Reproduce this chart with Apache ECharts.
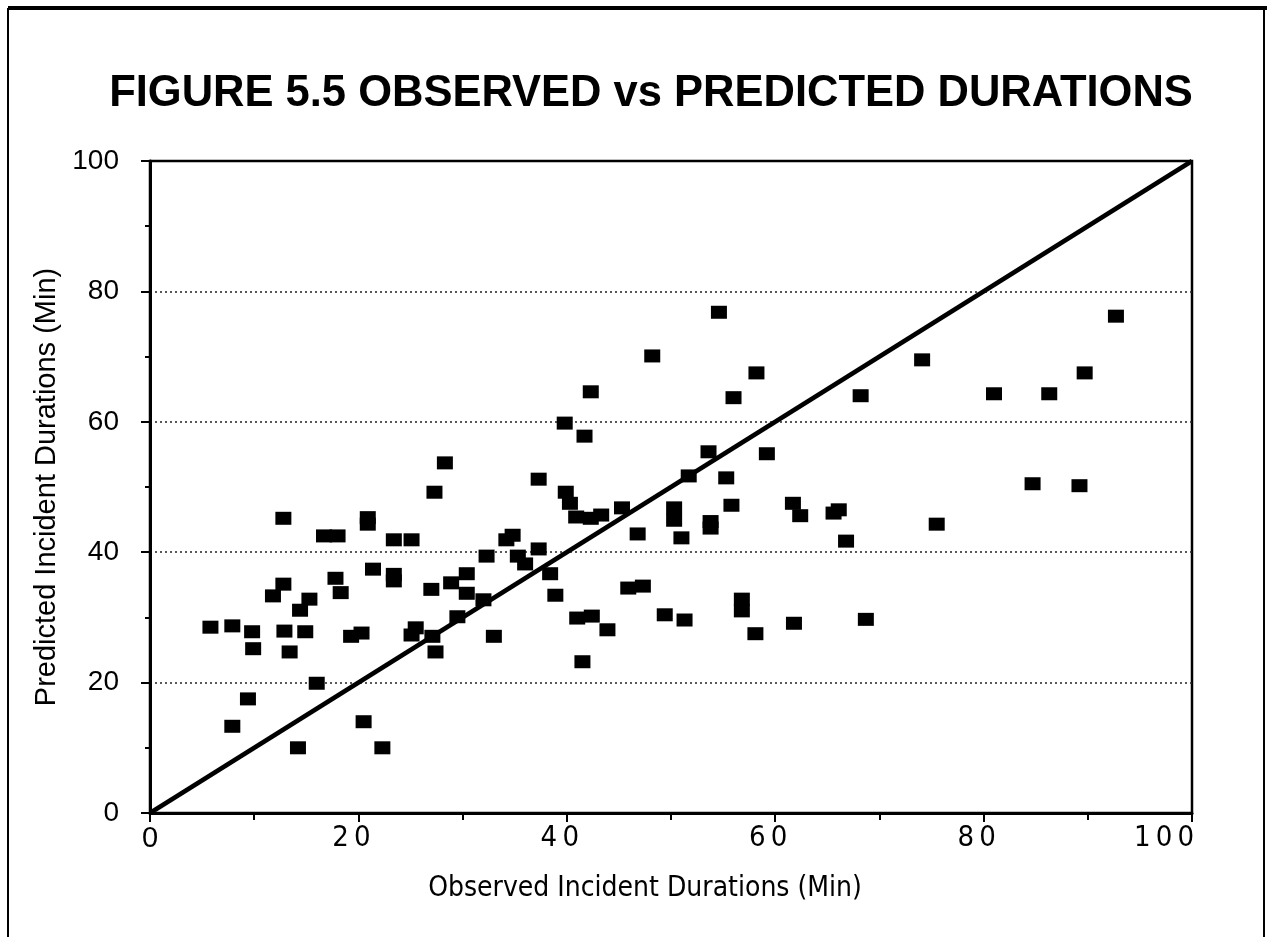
<!DOCTYPE html>
<html>
<head>
<meta charset="utf-8">
<script src="https://cdn.jsdelivr.net/npm/echarts@6/dist/echarts.min.js"></script>
<style>
  html, body { margin: 0; padding: 0; background: #fff; }
  #chart { width: 1267px; height: 937px; }
</style>
</head>
<body>
<div id="chart"></div>
<script>
// observed (x) and predicted (y) incident durations
const observed = [
  5.8, 7.9, 7.9, 9.4, 9.8, 9.9, 11.8, 12.8, 12.8, 12.9,
  13.4, 14.2, 14.4, 15.3, 14.9, 16.0, 16.7, 18.0, 17.8, 18.3,
  19.3, 20.3, 20.5, 20.9, 20.9, 21.4, 22.3, 23.4, 25.1, 23.4,
  23.4, 25.1, 25.5, 27.0, 27.1, 27.4, 27.3, 28.3, 28.9, 29.5,
  30.4, 30.4, 32.0, 32.3, 33.0, 34.2, 34.8, 35.3, 36.0, 37.3,
  37.3, 38.4, 38.9, 39.8, 39.9, 40.3, 40.9, 42.3, 43.3, 41.0,
  42.4, 41.5, 41.7, 42.3, 43.9, 45.3, 45.9, 47.3, 46.8, 48.2,
  49.4, 50.3, 50.3, 51.0, 51.3, 51.7, 53.6, 53.8, 53.8, 54.6,
  55.3, 55.8, 56.0, 56.8, 56.8, 58.1, 58.2, 59.2, 61.7, 62.4,
  61.8, 65.6, 66.1, 66.8, 68.2, 68.7, 74.1, 75.5, 81.0, 84.7,
  86.3, 89.2, 89.7, 92.7
];
const predicted = [
  28.5, 28.7, 13.3, 17.5, 27.8, 25.2, 33.3, 45.2, 35.1, 27.9,
  24.7, 10.0, 31.1, 32.8, 27.8, 19.9, 42.5, 42.5, 36.0, 33.8,
  27.1, 27.6, 14.0, 45.3, 44.3, 37.4, 10.0, 41.9, 41.9, 36.6,
  35.6, 27.3, 28.4, 34.3, 27.1, 24.7, 49.2, 53.7, 35.3, 30.1,
  36.7, 33.7, 32.7, 39.4, 27.1, 41.9, 42.6, 39.4, 38.2, 40.5,
  51.2, 36.7, 33.4, 59.8, 49.2, 47.5, 45.4, 45.2, 45.7, 29.9,
  30.2, 23.2, 57.8, 64.6, 28.1, 46.8, 34.5, 34.8, 42.8, 70.1,
  30.4, 46.8, 44.9, 42.2, 29.6, 51.7, 55.4, 44.7, 43.7, 76.8,
  51.4, 47.2, 63.7, 32.8, 31.0, 27.5, 67.5, 55.1, 47.5, 45.6,
  29.1, 46.0, 46.5, 41.7, 64.0, 29.7, 69.5, 44.3, 64.3, 50.5,
  64.3, 50.2, 67.5, 76.2
];
// line of perfect prediction
const equalityLine = [[0, 0], [100, 100]];
const axisMin = 0;
const axisMax = 100;
const axisStep = 20;

const points = observed.map((x, i) => [x, predicted[i]]);

const sans = '"Liberation Sans", Arial, sans-serif';
const narrow = '"Liberation Sans Narrow", "DejaVu Sans Condensed", "Liberation Sans", sans-serif';

// x tick labels are spaced out and sit a little left of their ticks
function xLabel(v) {
  const txt = String(v).split('').join('\u2009');
  if (v === 0) return '{z|' + txt + '}';
  if (v === 100) return '{w|' + txt + '}';
  return '{n|' + txt + '}';
}

const chart = echarts.init(document.getElementById('chart'), null, { renderer: 'canvas' });

chart.setOption({
  backgroundColor: '#fff',
  animation: false,
  title: {
    text: 'FIGURE 5.5 OBSERVED vs PREDICTED DURATIONS',
    left: 646,
    top: 67,
    textAlign: 'center',
    textStyle: { fontFamily: sans, fontWeight: 'bold', fontSize: 43.5, color: '#000' }
  },
  graphic: [
    { type: 'line', shape: { x1: 8, y1: 8, x2: 1267, y2: 8 }, style: { stroke: '#000', lineWidth: 4 } },
    { type: 'line', shape: { x1: 8, y1: 8, x2: 8, y2: 937 }, style: { stroke: '#000', lineWidth: 2 } },
    { type: 'line', shape: { x1: 1264, y1: 8, x2: 1264, y2: 937 }, style: { stroke: '#000', lineWidth: 2 } }
  ],
  grid: {
    left: 150, right: 75, top: 161, bottom: 124,
    show: true, borderColor: '#000', borderWidth: 2.5, backgroundColor: 'transparent'
  },
  xAxis: {
    type: 'value',
    min: axisMin, max: axisMax, interval: axisStep,
    name: 'Observed Incident Durations (Min)',
    nameLocation: 'middle',
    nameGap: 62,
    nameTextStyle: { fontFamily: narrow, fontSize: 28, color: '#000', padding: [0, 52, 0, 0] },
    axisLine: { lineStyle: { color: '#000', width: 3 } },
    axisTick: { length: 9, lineStyle: { color: '#000', width: 2 } },
    minorTick: { show: true, splitNumber: 2, length: 7, lineStyle: { color: '#000', width: 2 } },
    axisLabel: {
      margin: 11,
      fontFamily: narrow, fontSize: 29, color: '#000',
      formatter: xLabel,
      rich: {
        z: { fontFamily: sans, fontSize: 29, color: '#000' },
        n: { fontFamily: narrow, fontSize: 29, color: '#000', padding: [0, 14, 0, 0] },
        w: { fontFamily: narrow, fontSize: 29, color: '#000', padding: [0, 56, 0, 0] }
      }
    },
    splitLine: { show: false }
  },
  yAxis: {
    type: 'value',
    min: axisMin, max: axisMax, interval: axisStep,
    name: 'Predicted Incident Durations (Min)',
    nameLocation: 'middle',
    nameGap: 86,
    nameTextStyle: { fontFamily: sans, fontSize: 29, color: '#000' },
    axisLine: { lineStyle: { color: '#000', width: 3 } },
    axisTick: { length: 9, lineStyle: { color: '#000', width: 2 } },
    minorTick: { show: true, splitNumber: 2, length: 5, lineStyle: { color: '#000', width: 2 } },
    axisLabel: { margin: 31, fontFamily: sans, fontSize: 28, color: '#000' },
    splitLine: {
      show: true,
      lineStyle: {
        color: ['rgba(0,0,0,0)', '#222', '#222', '#222', '#222', 'rgba(0,0,0,0)'],
        width: 1.5,
        type: [2, 3]
      }
    }
  },
  series: [
    {
      type: 'line',
      data: equalityLine,
      symbol: 'none',
      lineStyle: { color: '#000', width: 4.5 },
      z: 2
    },
    {
      type: 'scatter',
      data: points,
      symbol: 'rect',
      symbolSize: [16, 13],
      itemStyle: { color: '#000', opacity: 1 },
      z: 3
    }
  ]
});
</script>
</body>
</html>
